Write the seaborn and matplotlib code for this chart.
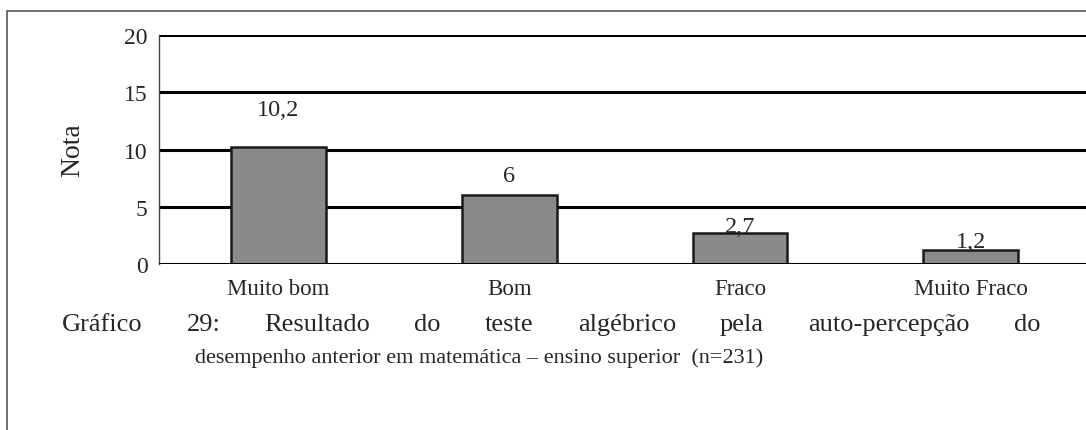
import matplotlib
matplotlib.use("Agg")
import matplotlib.pyplot as plt
import seaborn as sns
import pandas as pd
from matplotlib.patches import Rectangle

categories = ["Muito bom", "Bom", "Fraco", "Muito Fraco"]
values = [10.2, 6, 2.7, 1.2]
value_labels = ["10,2", "6", "2,7", "1,2"]
y_ticks = [0, 5, 10, 15, 20]
caption_1 = "Gráfico 29: Resultado do teste algébrico pela auto-percepção do"
caption_2 = "desempenho anterior em matemática – ensino superior  (n=231)"

sns.set_style("white")
plt.rcParams["font.family"] = ["Liberation Serif", "DejaVu Serif"]

df = pd.DataFrame({"cat": categories, "val": values})

fig = plt.figure(figsize=(10.86, 4.31), dpi=100)
ax = fig.add_axes([0.146, 0.385, 0.854, 0.5315])

sns.barplot(data=df, x="cat", y="val", ax=ax, color="#8a8a8a", width=0.41,
            edgecolor="#1a1a1a", linewidth=1.8, saturation=1)

ax.set_ylim(0, 20)
ax.set_xlim(-0.52, 3.5)
ax.set_yticks(y_ticks)
ax.set_yticklabels([str(t) for t in y_ticks], fontsize=17)
for t in y_ticks[1:]:
    ax.axhline(t, color="black", lw=2.2, zorder=0)
ax.axhline(0, color="black", lw=2.2, zorder=3)

ax.set_xticks(range(len(categories)))
ax.set_xticklabels(categories, fontsize=16.5)
ax.tick_params(axis="x", length=0, pad=10)
ax.set_xticks([0.5, 1.5, 2.5], minor=True)
ax.tick_params(axis="x", which="minor", length=6, direction="out", width=1, color="#444444")
ax.tick_params(axis="y", length=8, direction="inout", width=1, pad=4, color="#444444")
ax.set_xlabel("")
ax.set_ylabel("Nota", fontsize=20, labelpad=28)

for s in ["top", "right", "bottom"]:
    ax.spines[s].set_visible(False)
ax.spines["left"].set_color("#444444")
ax.spines["left"].set_linewidth(1)

label_offsets = [3.3, 1.7, 0.6, 0.8]
for i, (v, lab) in enumerate(zip(values, value_labels)):
    ax.text(i, v + label_offsets[i], lab, ha="center", va="center", fontsize=17.5)

# justified first caption line
fig.canvas.draw()
renderer = fig.canvas.get_renderer()
words = caption_1.split()
x0, x1 = 62 / 1086, 1040 / 1086
texts = [fig.text(0, 0.245, w, fontsize=19, ha="left", va="center") for w in words]
widths = [t.get_window_extent(renderer).width / fig.bbox.width for t in texts]
gap = (x1 - x0 - sum(widths)) / (len(words) - 1)
x = x0
for t, w in zip(texts, widths):
    t.set_x(x)
    x += w + gap

fig.text(195 / 1086, 0.168, caption_2, fontsize=16, ha="left", va="center")

fig.patches.append(Rectangle((7 / 1086, -0.1), 1.2, 1 - 12 / 431 + 0.1,
                             transform=fig.transFigure, fill=False,
                             edgecolor="#555555", linewidth=1.2))

fig.savefig("out.png", dpi=100)
